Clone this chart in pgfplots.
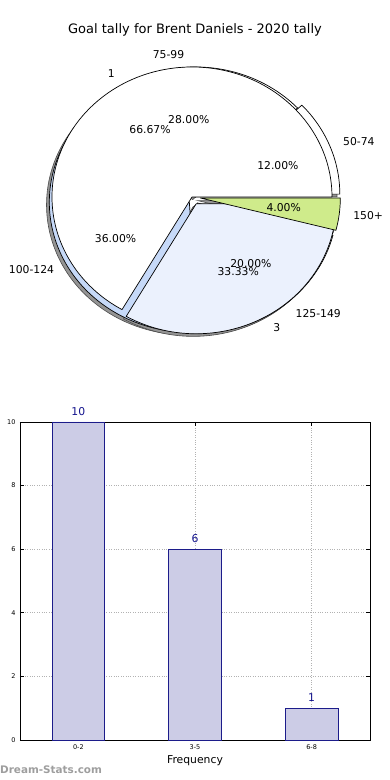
\documentclass[border=0pt]{standalone}
\usepackage{pgfplots}
\pgfplotsset{compat=1.18}
\usepackage{fontspec}
\setmainfont{DejaVu Sans}
\definecolor{blueA}{HTML}{C6D9F8}
\definecolor{blueB}{HTML}{EBF1FD}
\definecolor{greenA}{HTML}{CFEB8B}
\definecolor{barfill}{HTML}{CCCCE6}
\definecolor{baredge}{HTML}{1C1C8A}
\definecolor{navyT}{HTML}{12128C}
\newcommand\lblfont{\fontsize{10.8}{13}\selectfont}
\newcommand\tickfont{\fontsize{6.5}{7.5}\selectfont}

% #1 start (percent), #2 share (percent), #3 explode, #4 explode direction (deg), #5 fill
\newcommand\pieslice[5]{%
  \pgfmathsetmacro\pA{3.6*#1}%
  \pgfmathsetmacro\pB{3.6*(#1+#2)}%
  \pgfmathsetmacro\pOx{#3*cos(#4)}%
  \pgfmathsetmacro\pOy{#3*sin(#4)}%
  \pgfmathsetmacro\pPx{\pOx+cos(\pA)}%
  \pgfmathsetmacro\pPy{\pOy+sin(\pA)}%
  \filldraw[fill=#5, draw=black, line width=0.7pt, line join=round]
    (axis cs:\pOx,\pOy) -- (axis cs:\pPx,\pPy)
    arc[start angle=\pA, end angle=\pB, x radius=140pt, y radius=130pt] -- cycle;
}
\newcommand\pieshadow[4]{%
  \pgfmathsetmacro\pA{3.6*#1}%
  \pgfmathsetmacro\pB{3.6*(#1+#2)}%
  \pgfmathsetmacro\pOx{#3*cos(#4)-0.02}%
  \pgfmathsetmacro\pOy{#3*sin(#4)-0.02}%
  \pgfmathsetmacro\pPx{\pOx+cos(\pA)}%
  \pgfmathsetmacro\pPy{\pOy+sin(\pA)}%
  \filldraw[fill=black!42, draw=black!70, line width=0.6pt]
    (axis cs:\pOx,\pOy) -- (axis cs:\pPx,\pPy)
    arc[start angle=\pA, end angle=\pB, x radius=140pt, y radius=130pt] -- cycle;
}
% #1 start, #2 share, #3 explode, #4 explode direction, #5 label, #6 percent text
\newcommand\pielabel[6]{%
  \pgfmathsetmacro\pM{1.8*(2*#1+#2)}%
  \pgfmathsetmacro\pOx{#3*cos(#4)}%
  \pgfmathsetmacro\pOy{#3*sin(#4)}%
  \pgfmathsetmacro\pLx{\pOx+1.1*cos(\pM)}%
  \pgfmathsetmacro\pLy{\pOy+1.1*sin(\pM)}%
  \pgfmathsetmacro\pTx{\pOx+0.6*cos(\pM)}%
  \pgfmathsetmacro\pTy{\pOy+0.6*sin(\pM)}%
  \pgfmathsetmacro\pCos{cos(\pM)}%
  \ifdim\pCos pt>0pt \def\pAnc{west}\else\def\pAnc{east}\fi
  \node[anchor=\pAnc, inner sep=0pt, font=\lblfont] at (axis cs:\pLx,\pLy) {#5};
  \node[inner sep=0pt, font=\lblfont] at (axis cs:\pTx,\pTy) {#6};
}

\begin{document}
\begin{tikzpicture}
% ---------- title ----------
\node[font=\fontsize{13}{15}\selectfont, inner sep=0pt] at (195pt,750pt) {Goal tally for Brent Daniels - 2020 tally};

% ---------- pie chart ----------
\begin{axis}[
  at={(192pt,583pt)}, anchor=origin,
  x=140pt, y=130pt,
  xmin=-1.4, xmax=1.4, ymin=-1.3, ymax=1.3,
  axis lines=none, clip=false,
]
\pgfplotsextra{%
  % shadows
  \pieshadow{0}{12}{0.06}{21.6}
  \pieshadow{12}{28}{0.025}{0}
  \pieshadow{40}{36}{0.045}{245}
  \pieshadow{76}{20}{0.06}{309.6}
  \pieshadow{96}{4}{0.06}{352.8}
  \pieshadow{66.67}{33.33}{0.06}{300}
  % outer series (goal ranges)
  \pieslice{0}{12}{0.06}{21.6}{white}
  \pieslice{12}{28}{0.025}{0}{white}
  \pieslice{40}{36}{0.045}{245}{blueA}
  \pieslice{76}{20}{0.06}{309.6}{blueB}
  % inner series
  \pieslice{0}{66.67}{0}{0}{white}
  \pieslice{66.67}{33.33}{0.06}{300}{blueB}
  % top wedge
  \pieslice{96}{4}{0.06}{352.8}{greenA}
  % labels
  \pielabel{0}{12}{0.06}{21.6}{50-74}{12.00\%}
  \pielabel{12}{28}{0.015}{0}{75-99}{28.00\%}
  \pielabel{40}{36}{0.035}{235}{100-124}{36.00\%}
  \pielabel{76}{20}{0.06}{309.6}{125-149}{20.00\%}
  \pielabel{96}{4}{0.06}{352.8}{150+}{4.00\%}
  \pielabel{0}{66.67}{0}{0}{1}{66.67\%}
  \pielabel{66.67}{33.33}{0.06}{300}{3}{33.33\%}
}
\end{axis}

% ---------- bar chart ----------
\begin{axis}[
  at={(20pt,40pt)}, anchor=south west,
  scale only axis, width=350pt, height=318pt,
  xmin=-0.5, xmax=2.5, ymin=0, ymax=10,
  xtick={0,1,2}, xticklabels={0-2,3-5,6-8},
  ytick={0,2,4,6,8,10},
  tick align=inside, major tick length=4pt,
  grid=major, grid style={dotted, black!30, line width=0.9pt},
  axis line style={black, line width=0.8pt},
  tick style={black, line width=0.6pt},
  ticklabel style={font=\tickfont},
  xticklabel style={yshift=-1.5pt},
  yticklabel style={xshift=-1pt},
  /pgf/number format/assume math mode=true,
  xlabel={Frequency},
  xlabel style={font=\lblfont, at={(axis description cs:0.5,0)}, anchor=center, yshift=-21pt},
  ylabel={Goal Interval},
  ylabel style={font=\lblfont, at={(axis description cs:0,0.5)}, anchor=base, yshift=21pt},
  clip=false,
]
\addplot[ybar, bar width=0.45, fill=barfill, draw=baredge, line width=0.7pt,
  nodes near coords,
  nodes near coords style={font=\lblfont, text=navyT, anchor=south, inner sep=0pt, yshift=6pt}]
  coordinates {(0,10) (1,6) (2,1)};
\end{axis}

% ---------- watermark ----------
\node[anchor=west, inner sep=0pt, text=black!38, font=\bfseries\fontsize{10.4}{12}\selectfont] at (0pt,10pt) {Dream-Stats.com};

\pgfresetboundingbox
\path[use as bounding box] (0,0) rectangle (390pt,780pt);
\end{tikzpicture}
\end{document}
